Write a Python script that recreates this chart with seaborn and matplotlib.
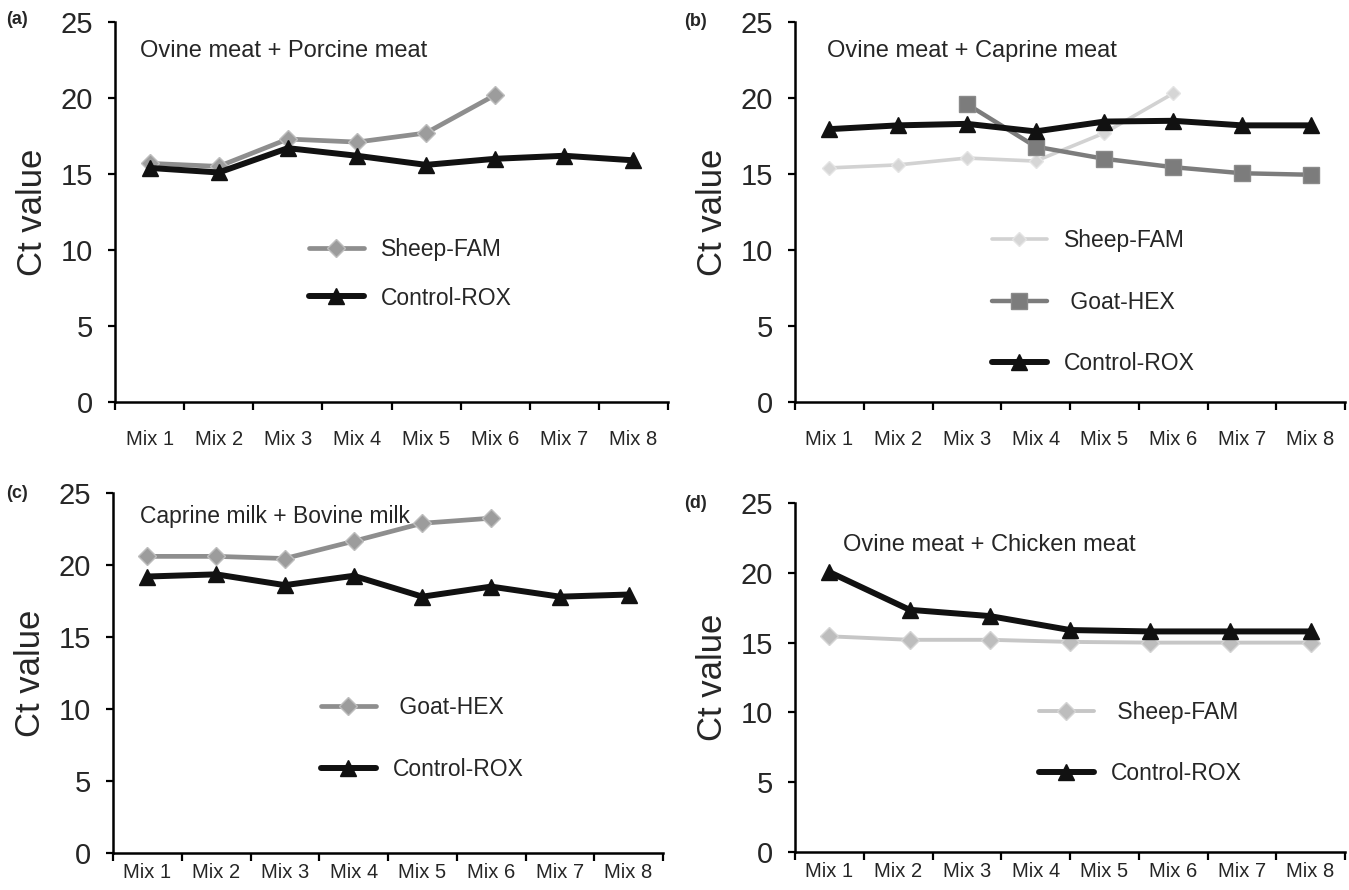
import numpy as np
import pandas as pd
import matplotlib
matplotlib.use("Agg")
import matplotlib.pyplot as plt
import seaborn as sns

sns.set_theme(style="white")
plt.rcParams['font.family'] = ['Liberation Sans', 'DejaVu Sans']

# ---------------- data ----------------
mixes = ["Mix 1", "Mix 2", "Mix 3", "Mix 4", "Mix 5", "Mix 6", "Mix 7", "Mix 8"]
yticks = [0, 5, 10, 15, 20, 25]

# (a) Ovine meat + Porcine meat
a_sheep = [15.7, 15.5, 17.3, 17.1, 17.7, 20.2]
a_control = [15.4, 15.1, 16.7, 16.2, 15.6, 16.0, 16.2, 15.9]

# (b) Ovine meat + Caprine meat
b_sheep = [15.4, 15.6, 16.05, 15.85, 17.7, 20.3]
b_goat_mix = ["Mix 3", "Mix 4", "Mix 5", "Mix 6", "Mix 7", "Mix 8"]
b_goat = [19.6, 16.8, 16.0, 15.45, 15.05, 14.95]
b_control = [17.95, 18.2, 18.3, 17.8, 18.45, 18.5, 18.2, 18.2]

# (c) Caprine milk + Bovine milk
c_goat = [20.6, 20.6, 20.45, 21.65, 22.9, 23.25]
c_control = [19.2, 19.35, 18.6, 19.25, 17.8, 18.5, 17.8, 17.95]

# (d) Ovine meat + Chicken meat (7 measurements spread across the axis)
d_sheep = [15.45, 15.2, 15.2, 15.05, 15.0, 15.0, 15.0]
d_control = [20.05, 17.35, 16.9, 15.9, 15.8, 15.8, 15.8]

titles = ["Ovine meat + Porcine meat", "Ovine meat + Caprine meat",
          "Caprine milk + Bovine milk", "Ovine meat + Chicken meat"]
panel_labels = ["(a)", "(b)", "(c)", "(d)"]

# ---------------- styles ----------------
STY = {
    "sheep_dark": dict(color="#8e8e8e", marker="D", ms=9, lw=3.4, mfc="#9c9c9c", mec="#bdbdbd"),
    "sheep_light": dict(color="#d2d2d2", marker="D", ms=7.5, lw=2.6, mfc="#d6d6d6", mec="#e4e4e4"),
    "sheep_d": dict(color="#c6c6c6", marker="D", ms=9, lw=2.8, mfc="#bdbdbd", mec="#d4d4d4"),
    "goat_sq": dict(color="#7c7c7c", marker="s", ms=11, lw=3.2, mfc="#7c7c7c", mec="#8a8a8a"),
    "goat_d": dict(color="#8e8e8e", marker="D", ms=9, lw=3.4, mfc="#9c9c9c", mec="#bdbdbd"),
    "control": dict(color="#111111", marker="^", ms=12, lw=4.3, mfc="#111111", mec="#111111"),
}

W, H = 1349, 890
fig = plt.figure(figsize=(W / 100, H / 100), dpi=100)


def ax_at(left, top, right, bottom):
    return fig.add_axes([left / W, 1 - bottom / H, (right - left) / W, (bottom - top) / H])


axes = [ax_at(115, 22, 668, 402), ax_at(795, 22, 1345, 402),
        ax_at(113, 493, 663, 853), ax_at(795, 503, 1345, 852)]


def draw(ax, xs, ys, label, key):
    s = STY[key]
    df = pd.DataFrame({"x": xs, "y": ys})
    sns.lineplot(data=df, x="x", y="y", ax=ax, color=s["color"], lw=s["lw"],
                 marker=s["marker"], markersize=s["ms"], markerfacecolor=s["mfc"],
                 markeredgecolor=s["mec"], markeredgewidth=1.0, label=label,
                 legend=False, sort=False, zorder=3 if key == "control" else 2)


pos = {m: i for i, m in enumerate(mixes)}

draw(axes[0], [pos[m] for m in mixes[:len(a_sheep)]], a_sheep, "Sheep-FAM", "sheep_dark")
draw(axes[0], [pos[m] for m in mixes], a_control, "Control-ROX", "control")

draw(axes[1], [pos[m] for m in mixes[:len(b_sheep)]], b_sheep, "Sheep-FAM", "sheep_light")
draw(axes[1], [pos[m] for m in b_goat_mix], b_goat, " Goat-HEX", "goat_sq")
draw(axes[1], [pos[m] for m in mixes], b_control, "Control-ROX", "control")

draw(axes[2], [pos[m] for m in mixes[:len(c_goat)]], c_goat, " Goat-HEX", "goat_d")
draw(axes[2], [pos[m] for m in mixes], c_control, "Control-ROX", "control")

d_pos = np.linspace(0, len(mixes) - 1, len(d_sheep))
draw(axes[3], d_pos, d_sheep, " Sheep-FAM", "sheep_d")
draw(axes[3], d_pos, d_control, "Control-ROX", "control")

title_pos = [(0.045, 0.925), (0.058, 0.925), (0.049, 0.935), (0.087, 0.88)]
leg_pos = [(0.350, 0.432), (0.358, 0.455), (0.378, 0.436), (0.443, 0.433)]
leg_spacing = [1.12, 1.68, 1.68, 1.68]
lab_pos = [(6, 20), (684, 22), (6, 494), (684, 504)]
xpad = [20, 20, 7, 7]
title_fs = [17, 17, 16.5, 17]

for i, ax in enumerate(axes):
    ax.set_xlim(-0.5, len(mixes) - 0.5)
    ax.set_ylim(0, 25)
    ax.set_yticks(yticks)
    ax.set_yticklabels([str(v) for v in yticks], fontsize=21)
    ax.set_xticks(np.arange(-0.5, len(mixes)), labels=[""] * (len(mixes) + 1))
    ax.set_xticks(np.arange(len(mixes)), labels=mixes, minor=True, fontsize=14.5)
    ax.tick_params(axis="x", which="major", direction="out", length=6, width=1.6, color="black", bottom=True)
    ax.tick_params(axis="x", which="minor", length=0, pad=xpad[i], bottom=True)
    ax.tick_params(axis="y", direction="out", length=5, width=1.6, color="black", left=True, pad=11)
    for side in ["top", "right"]:
        ax.spines[side].set_visible(False)
    for side in ["left", "bottom"]:
        ax.spines[side].set_color("black")
        ax.spines[side].set_linewidth(1.8)
    ax.set_xlabel("")
    ax.set_ylabel("Ct value", fontsize=25, labelpad=8)
    ax.grid(False)
    ax.text(title_pos[i][0], title_pos[i][1], titles[i], transform=ax.transAxes,
            fontsize=title_fs[i], va="center", ha="left")
    ax.legend(loc="upper left", bbox_to_anchor=leg_pos[i], frameon=False, fontsize=16.5,
              handlelength=2.4, handletextpad=0.75, labelspacing=leg_spacing[i],
              borderpad=0, borderaxespad=0)
    fig.text(lab_pos[i][0] / W, 1 - lab_pos[i][1] / H, panel_labels[i], fontsize=13,
             fontweight="bold", va="center", ha="left")

fig.savefig("out.png", dpi=100, facecolor="white")
